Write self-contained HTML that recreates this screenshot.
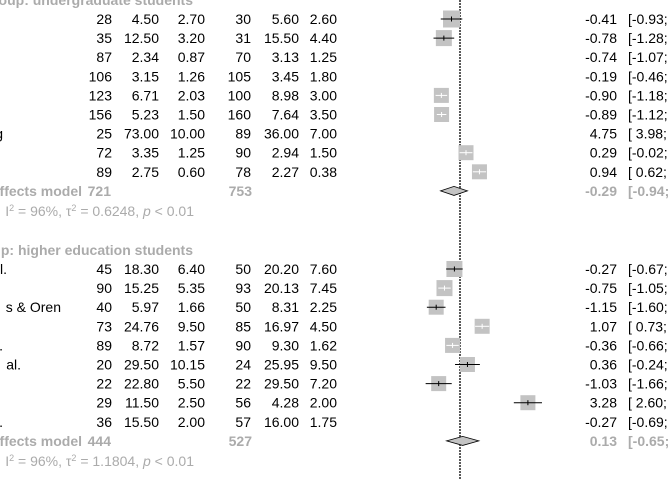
<!DOCTYPE html>
<html><head><meta charset="utf-8"><style>
html,body{margin:0;padding:0;background:#fff;}
svg{display:block;font-family:"Liberation Sans",Arial,sans-serif;}
</style></head><body>
<svg id="chart" width="672" height="480" viewBox="0 0 672 480" xmlns="http://www.w3.org/2000/svg">
<g id="marks"></g>
<g id="texts"></g>
</svg>
<script>
const g1Labels = ["","","","","","","g","",""];
const g1N1 = ["28","35","87","106","123","156","25","72","89"];
const g1M1 = ["4.50","12.50","2.34","3.15","6.71","5.23","73.00","3.35","2.75"];
const g1S1 = ["2.70","3.20","0.87","1.26","2.03","1.50","10.00","1.25","0.60"];
const g1N2 = ["30","31","70","105","100","160","89","90","78"];
const g1M2 = ["5.60","15.50","3.13","3.45","8.98","7.64","36.00","2.94","2.27"];
const g1S2 = ["2.60","4.40","1.25","1.80","3.00","3.50","7.00","1.50","0.38"];
const g1Est = [-0.41,-0.78,-0.74,-0.19,-0.90,-0.89,4.75,0.29,0.94];
const g1Low = [-0.93,-1.28,-1.07,-0.46,-1.18,-1.12,3.98,-0.02,0.62];
const g1Size = [17,16,0,0,15,15,0,15,15];
const g1Sum = [-0.29,-0.94,0.36];

const g2Labels = ["l.","","s & Oren","",".","al.","","","."];
const g2N1 = ["45","90","40","73","89","20","22","29","36"];
const g2M1 = ["18.30","15.25","5.97","24.76","8.72","29.50","22.80","11.50","15.50"];
const g2S1 = ["6.40","5.35","1.66","9.50","1.57","10.15","5.50","2.50","2.00"];
const g2N2 = ["50","93","50","85","90","24","22","56","57"];
const g2M2 = ["20.20","20.13","8.31","16.97","9.30","25.95","29.50","4.28","16.00"];
const g2S2 = ["7.60","7.45","2.25","4.50","1.62","9.50","7.20","2.00","1.75"];
const g2Est = [-0.27,-0.75,-1.15,1.07,-0.36,0.36,-1.03,3.28,-0.27];
const g2Low = [-0.67,-1.05,-1.60,0.73,-0.66,-0.24,-1.66,2.60,-0.69];
const g2Size = [16,16,15,15,15,15,15,15,0];
const g2Sum = [0.13,-0.65,0.91];

const NS="http://www.w3.org/2000/svg";
const marks=document.getElementById('marks');
const texts=document.getElementById('texts');
const x0=460, k=20.7;
function xs(v){return x0+k*v;}
const GRAY="#ababab";
const labelEnd={"l.":7,"s & Oren":61,".":3,"al.":21,"g":3};

function txt(s,x,y,anchor,opts){
  const t=document.createElementNS(NS,'text');
  t.setAttribute('x',x);
  t.setAttribute('y',y);
  t.setAttribute('text-anchor',anchor);
  t.setAttribute('font-size','14');
  t.setAttribute('fill',(opts&&opts.fill)||'#000');
  if(opts&&opts.bold) t.setAttribute('font-weight','bold');
  t.textContent=s;
  texts.appendChild(t);
  return t;
}
function el(tag,attrs){
  const e=document.createElementNS(NS,tag);
  for(const a in attrs) e.setAttribute(a,attrs[a]);
  marks.appendChild(e);
  return e;
}

const zl=el('line',{x1:x0,x2:x0,y1:0,y2:480,stroke:'#000','stroke-width':1.3,'stroke-dasharray':'2,1'});



function group(y0,header,labels,n1,m1,s1,n2,m2,s2,est,low,size,sum,tau,idx){
  const h=txt(header,193,y0-19+5,'end',{fill:GRAY,bold:true});
  
  
  const step=19.1;
  for(let i=0;i<est.length;i++){
    const y=y0+i*step, ty=y+5;
    if(labels[i]){const l=txt(labels[i],labelEnd[labels[i]],ty,'end');
      
      }
    const cols=[[n1[i],112],[m1[i],159],[s1[i],205],[n2[i],251],[m2[i],299],[s2[i],337]];
    cols.forEach(c=>{const t=txt(c[0],c[1],ty,'end');
      
      });
    const es=txt(est[i].toFixed(2),617,ty,'end');
    
    
    const ci=txt('['+(low[i]<0?low[i].toFixed(2):' '+low[i].toFixed(2))+';',628,ty,'start');
    
    
    ci.setAttribute('xml:space','preserve');
    const up=2*est[i]-low[i];
    const cx=xs(est[i]), sz=size[i];
    if(sz>0){
      const r=el('rect',{x:cx-sz/2,y:y-sz/2,width:sz,height:sz,fill:'#c3c3c3'});
      
      
      const inside=(xs(low[i])>cx-sz/2)&&(xs(up)<cx+sz/2);
      const col=inside?'#fff':'#000';
      const ln=el('line',{x1:xs(low[i]),x2:xs(up),y1:y,y2:y,stroke:col,'stroke-width':1});
      
      
      const tk=el('line',{x1:cx,x2:cx,y1:y-2.5,y2:y+2.5,stroke:col,'stroke-width':1});
      
      
    }
  }
  const sy=y0+9*step;
  const d=el('polygon',{points:xs(sum[1])+','+sy+' '+xs(sum[0])+','+(sy-4.5)+' '+xs(sum[2])+','+sy+' '+xs(sum[0])+','+(sy+4.5),fill:'#c3c3c3',stroke:'#000','stroke-width':0.8});
  
  
  const m=txt('Random effects model',82,sy+5,'end',{fill:GRAY,bold:true});
  
  
  const tn1=txt(sum.n1,111,sy+5,'end',{fill:GRAY,bold:true});
  
  
  const tn2=txt(sum.n2,252,sy+5,'end',{fill:GRAY,bold:true});
  
  
  const se=txt(sum[0].toFixed(2),617,sy+5,'end',{fill:GRAY,bold:true});
  
  
  const sc=txt('['+sum[1].toFixed(2)+';',628,sy+5,'start',{fill:GRAY,bold:true});
  
  
  const het=document.createElementNS(NS,'text');
  het.setAttribute('x',194);het.setAttribute('y',sy+25);
  het.setAttribute('text-anchor','end');het.setAttribute('font-size','14');het.setAttribute('fill',GRAY);
  het.innerHTML='Heterogeneity: I<tspan dy="-5" font-size="9">2</tspan><tspan dy="5"> = 96%, τ</tspan><tspan dy="-5" font-size="9">2</tspan><tspan dy="5"> = '+tau+', </tspan><tspan font-style="italic">p</tspan> &lt; 0.01';
  
  
  texts.appendChild(het);
}
g1Sum.n1="721"; g1Sum.n2="753";
g2Sum.n1="444"; g2Sum.n2="527";
group(19,'Subgroup: undergraduate students',g1Labels,g1N1,g1M1,g1S1,g1N2,g1M2,g1S2,g1Est,g1Low,g1Size,g1Sum,'0.6248',1);
group(269,'Subgroup: higher education students',g2Labels,g2N1,g2M1,g2S1,g2N2,g2M2,g2S2,g2Est,g2Low,g2Size,g2Sum,'1.1804',2);
</script>
</body></html>
